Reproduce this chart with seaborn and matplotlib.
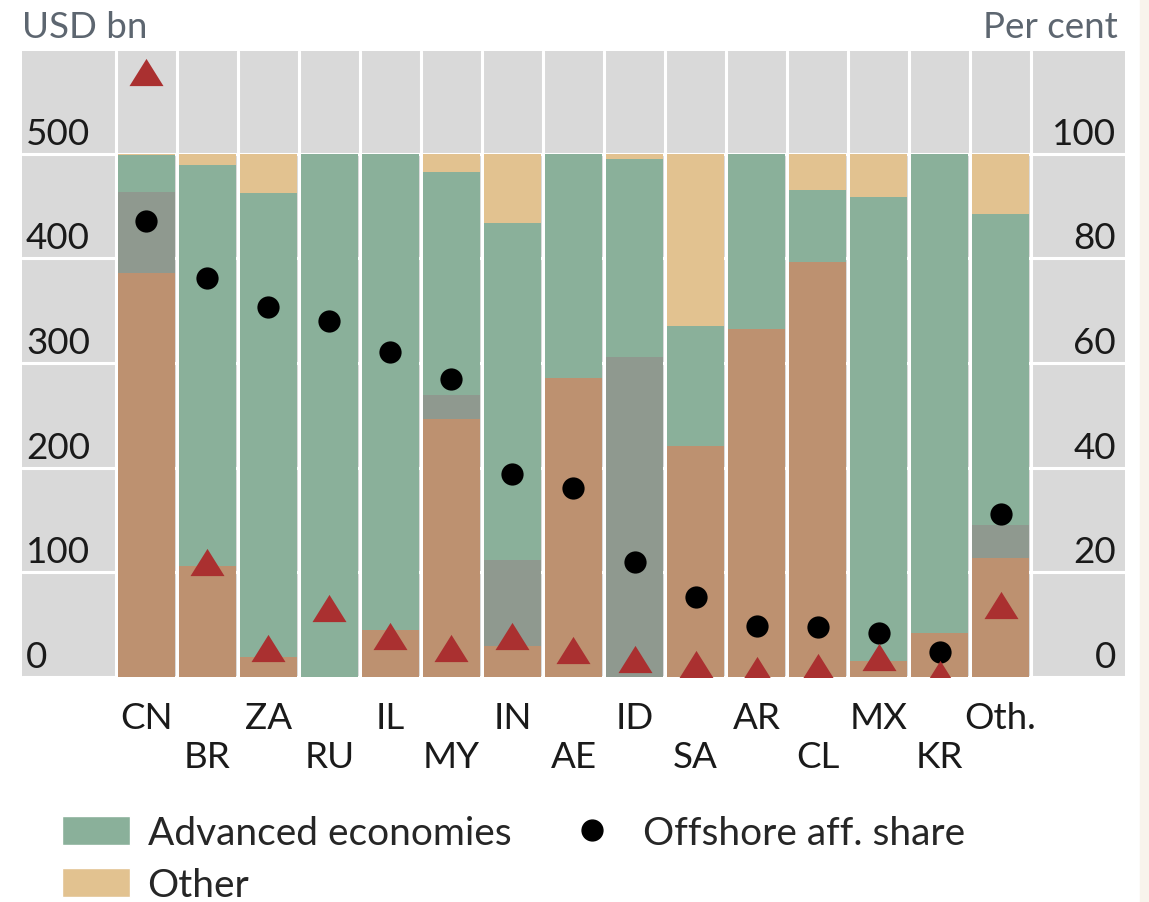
import numpy as np
import pandas as pd
import matplotlib
matplotlib.use("Agg")
import matplotlib.pyplot as plt
import matplotlib.transforms as mtransforms
from matplotlib.patches import Patch, Rectangle
from matplotlib.lines import Line2D
import seaborn as sns

# data
countries = ["CN", "BR", "ZA", "RU", "IL", "MY", "IN", "AE", "ID", "SA", "AR", "CL", "MX", "KR", "Oth."]
# stacked shares, per cent (bottom to top)
share_brown = [77.1, 21.2, 3.9, 0.0, 8.9, 49.3, 5.9, 57.2, 0.0, 44.2, 66.5, 79.2, 3.0, 8.4, 22.7]
share_grey = [15.5, 0.0, 0.0, 0.0, 0.0, 4.6, 16.5, 0.0, 61.1, 0.0, 0.0, 0.0, 0.0, 0.0, 6.4]
share_advanced = [7.1, 76.6, 88.5, 100.0, 91.1, 42.6, 64.4, 42.8, 37.9, 22.8, 33.5, 13.9, 88.8, 91.6, 59.3]
share_other = [0.3, 2.2, 7.6, 0.0, 0.0, 3.5, 13.2, 0.0, 1.0, 33.0, 0.0, 6.9, 8.2, 0.0, 11.6]
# offshore affiliate share, per cent (rhs)
offshore_share = [87.2, 76.2, 70.7, 68.1, 62.0, 57.0, 38.8, 36.1, 21.9, 15.2, 9.7, 9.5, 8.4, 4.7, 31.2]
# amounts, USD bn (lhs)
amount_bn = [578, 110, 28, 66, 39, 28, 39, 26, 17, 12, 6.5, 10, 19, 3, 69]

left_ticks = [0, 100, 200, 300, 400, 500]
right_ticks = [0, 20, 40, 60, 80, 100]

BROWN = "#bd9170"
GREY = "#8f998f"
GREEN = "#8ab09a"
TAN = "#e2c290"
RED = "#aa3030"
BG = "#d9d9d9"
FS = 26.5
LEG_FS = 28

df = pd.DataFrame({"country": countries})
df["top_brown"] = np.array(share_brown)
df["top_grey"] = df["top_brown"] + np.array(share_grey)
df["top_adv"] = df["top_grey"] + np.array(share_advanced)
df["top_other"] = df["top_adv"] + np.array(share_other)
df["offshore"] = offshore_share
df["amount"] = amount_bn

sns.set_theme(style="white")
plt.rcParams["font.family"] = ["Lato", "DejaVu Sans"]

fig = plt.figure(figsize=(11.49, 9.03), dpi=100)
ax = fig.add_axes([22 / 1149, 225 / 903, 1103 / 1149, 626 / 903])
ax.set_facecolor(BG)

# layered bars, tallest first
for col, colr in [("top_other", TAN), ("top_adv", GREEN), ("top_grey", GREY), ("top_brown", BROWN)]:
    sns.barplot(data=df, x="country", y=col, color=colr, width=0.92, saturation=1,
                errorbar=None, linewidth=0, ax=ax, zorder=2)

sns.stripplot(data=df, x="country", y="offshore", jitter=False, color="black",
              size=16, linewidth=0, ax=ax, zorder=4)

ax2 = ax.twinx()
tri = [(0, 0.8), (-1, -0.8), (1, -0.8)]
sns.stripplot(data=df, x="country", y="amount", jitter=False, color=RED,
              marker=tri, size=24.5, linewidth=0, ax=ax2, zorder=5)

ylim_bn = 598
ax2.set_ylim(0, ylim_bn)
ax.set_ylim(0, ylim_bn / 5)
ax.set_xlim(-2.04, 16.04)

# grid
ax.set_axisbelow(True)
ax.set_yticks(right_ticks)
ax.set_yticklabels([])
ax.set_xticks(np.arange(-0.5, 15, 1), minor=True)
ax.grid(which="major", axis="y", color="white", lw=2.2)
ax.grid(which="minor", axis="x", color="white", lw=2.2)
ax.tick_params(axis="y", length=0)
ax.tick_params(axis="x", which="both", length=0)
ax2.set_yticks([])

ax.set_xticks(range(len(countries)))
ax.set_xticklabels([c if i % 2 == 0 else "\n" + c for i, c in enumerate(countries)],
                   fontsize=FS, color="#1a1a1a", linespacing=1.25)
ax.tick_params(axis="x", pad=17)

for a in (ax, ax2):
    a.set_xlabel("")
    a.set_ylabel("")
    for s in a.spines.values():
        s.set_visible(False)

# axis numbers inside the plot area
tl = mtransforms.blended_transform_factory(ax.transAxes, ax2.transData)
for v in left_ticks:
    ax2.annotate(f"{v}", xy=(0, v), xycoords=tl, xytext=(4, 10), textcoords="offset pixels",
                 ha="left", va="baseline", fontsize=FS, color="#1a1a1a")
tr = mtransforms.blended_transform_factory(ax.transAxes, ax.transData)
for v in right_ticks:
    ax2.annotate(f"{v}", xy=(1, v), xycoords=tr, xytext=(-9, 10), textcoords="offset pixels",
                 ha="right", va="baseline", fontsize=FS, color="#1a1a1a")

fig.text(22 / 1149, 1 - 38 / 903, "USD bn", ha="left", va="baseline", fontsize=FS, color="#5d6670")
fig.text(1118 / 1149, 1 - 38 / 903, "Per cent", ha="right", va="baseline", fontsize=FS, color="#5d6670")

handles = [
    Patch(facecolor=GREEN, label="Advanced economies"),
    Patch(facecolor=TAN, label="Other"),
    Line2D([], [], marker="o", linestyle="", color="black", markersize=15, label="Offshore aff. share"),
]
fig.legend(handles=handles, ncol=2, loc="upper left", bbox_to_anchor=(62 / 1149, 1 - 816 / 903),
           frameon=False, fontsize=LEG_FS, handlelength=1.75, handleheight=0.77, handletextpad=0.45,
           columnspacing=1.2, labelspacing=0.4, borderpad=0, borderaxespad=0)

fig.patches.append(Rectangle((1140 / 1149, 0), 9 / 1149, 1, transform=fig.transFigure,
                             color="#f8f4ec", zorder=-1))

fig.savefig("out.png", dpi=100)
